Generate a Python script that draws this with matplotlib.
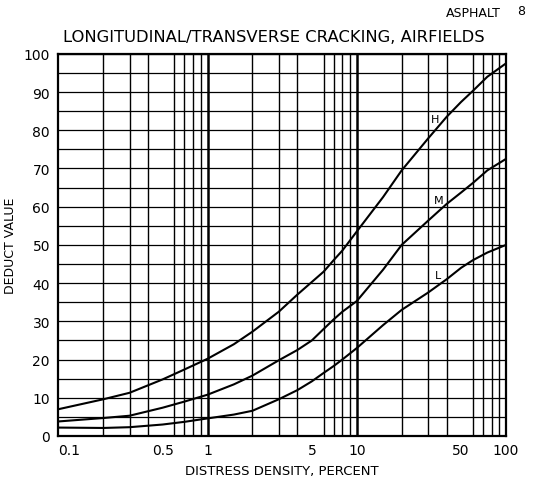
import numpy as np
import matplotlib
matplotlib.use("Agg")
import matplotlib.pyplot as plt
from matplotlib.ticker import LogLocator, NullFormatter

# distress density (percent) and deduct values
density = [0.1, 0.2, 0.3, 0.5, 0.7, 1, 1.5, 2, 3, 4, 5, 6, 7, 8, 10, 15, 20, 30, 40, 50, 60, 75, 100]
high = [7.0, 9.6, 11.3, 14.8, 17.4, 20.2, 24.0, 27.3, 32.5, 37.0, 40.3, 43.0, 46.0, 48.5, 53.5, 62.5, 69.5, 77.8, 83.5, 87.4, 90.3, 94.0, 97.5]
medium = [3.8, 4.7, 5.3, 7.4, 9.0, 10.8, 13.5, 15.8, 19.8, 22.5, 25.0, 28.0, 30.5, 32.5, 35.3, 43.5, 50.0, 56.3, 60.7, 63.7, 66.2, 69.5, 72.5]
low = [2.2, 2.1, 2.3, 3.0, 3.7, 4.6, 5.6, 6.6, 9.6, 12.0, 14.3, 16.5, 18.3, 20.0, 23.0, 29.0, 33.0, 37.5, 41.0, 44.0, 46.0, 48.0, 50.0]

curve_labels = ["H", "M", "L"]
label_pos = [(33.5, 83.0), (35.5, 61.8), (35.0, 42.0)]

x_ticks = [0.1, 0.5, 1, 5, 10, 50, 100]
x_ticklabels = ["0.1", "0.5", "1", "5", "10", "50", "100"]
y_ticks = list(range(0, 101, 10))
decades = [1, 10]

fig = plt.figure(figsize=(5.5, 4.85), dpi=100)
ax = fig.add_axes([0.106, 0.099, 0.814, 0.788])

ax.set_xscale("log")
ax.set_xlim(0.1, 100)
ax.set_ylim(0, 100)

# grid: every log line thin, decades heavier, horizontal every 5
ax.xaxis.set_minor_locator(LogLocator(base=10, subs=np.arange(1, 10)))
ax.xaxis.set_minor_formatter(NullFormatter())
ax.yaxis.set_minor_locator(plt.MultipleLocator(5))
ax.grid(which="minor", axis="x", color="black", linewidth=1.0)
ax.grid(which="minor", axis="y", color="black", linewidth=0.9)
ax.grid(which="major", axis="y", color="black", linewidth=0.9)
for d in decades:
    ax.axvline(d, color="black", linewidth=1.8, zorder=0.5)
ax.set_axisbelow(True)

for y in [high, medium, low]:
    ax.plot(density, y, color="black", linewidth=1.5)

for lab, (lx, ly) in zip(curve_labels, label_pos):
    ax.text(lx, ly, lab, fontsize=8, ha="center", va="center", color="black")

ax.set_xticks(x_ticks)
ax.set_xticklabels(x_ticklabels)
ax.get_xticklabels()[0].set_horizontalalignment("left")
ax.set_yticks(y_ticks)
ax.tick_params(which="both", length=0, labelsize=10)
ax.tick_params(axis="x", pad=5)
ax.tick_params(axis="y", pad=6)

for s in ax.spines.values():
    s.set_color("black")
    s.set_linewidth(1.6)

ax.set_xlabel("DISTRESS DENSITY, PERCENT", fontsize=9.5, labelpad=5)
ax.set_ylabel("DEDUCT VALUE", fontsize=9)
ax.yaxis.set_label_coords(-0.092, 0.5)

fig.text(0.497, 0.922, "LONGITUDINAL/TRANSVERSE CRACKING, AIRFIELDS", ha="center", va="center", fontsize=11.8)
fig.text(0.86, 0.972, "ASPHALT", ha="center", va="center", fontsize=9)
fig.text(0.948, 0.977, "8", ha="center", va="center", fontsize=9)

fig.savefig("out.png", dpi=100, facecolor="white")
